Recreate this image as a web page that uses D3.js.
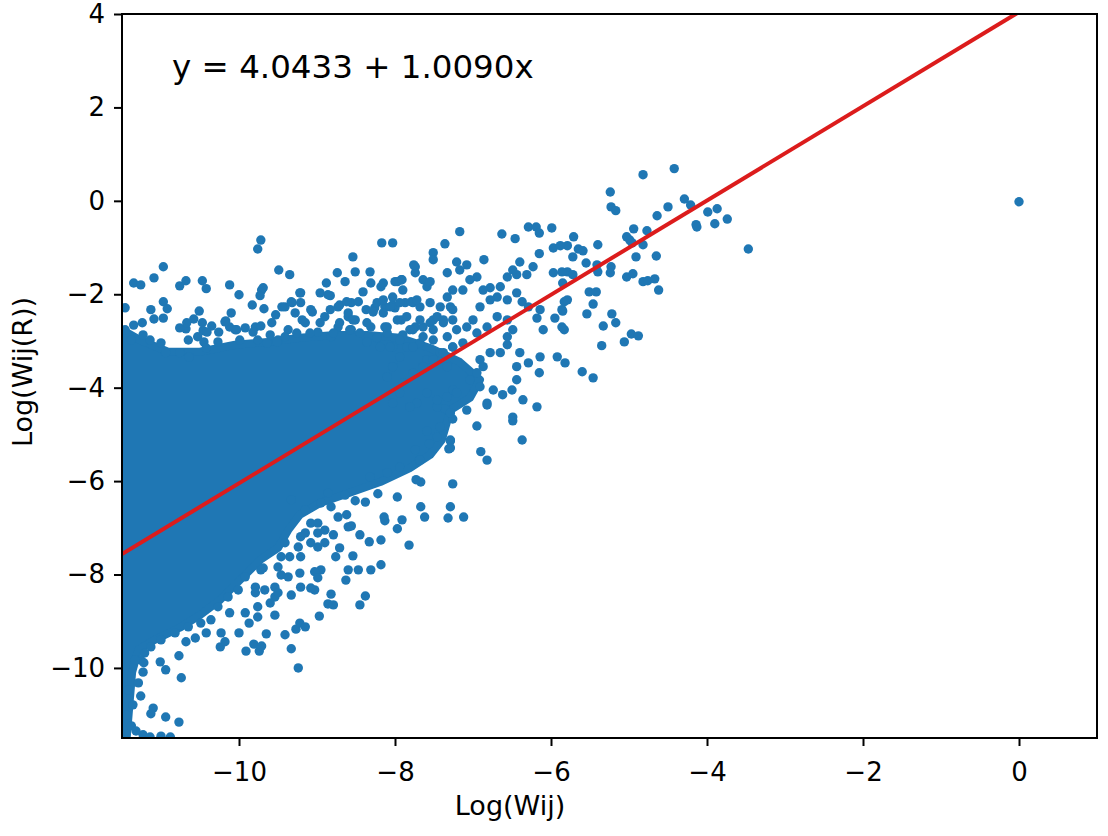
<!DOCTYPE html>
<html>
<head>
<meta charset="utf-8">
<script src="https://cdn.jsdelivr.net/npm/d3@7"></script>
<style>
  html, body { margin: 0; padding: 0; background: #fff; }
  svg { display: block; font-family: "DejaVu Sans", sans-serif; }
</style>
</head>
<body>
<svg id="chart" width="1108" height="836"></svg>
<script>
// axis setup
const xDomain = [-11.5, 1.0]
const yDomain = [-11.5, 4]
const xTicks = [-10, -8, -6, -4, -2, 0]
const yTicks = [-10, -8, -6, -4, -2, 0, 2, 4]
const xLabel = "Log(Wij)"
const yLabel = "Log(Wij(R))"

// fitted line  y = a + b x
const fitIntercept = 4.0433
const fitSlope = 1.0090

// outline of the solid mass of overlapping points on the left
const denseCore = [
  [-11.50,-2.76],[-11.27,-2.98],[-10.91,-3.23],[-10.50,-3.23],[-10.05,-3.08],[-9.63,-3.02],
  [-9.22,-2.93],[-8.77,-2.87],[-8.35,-2.87],[-7.94,-2.93],[-7.55,-3.15],[-7.17,-3.45],
  [-6.91,-3.83],[-7.04,-4.22],[-7.29,-4.48],[-7.40,-5.12],[-7.55,-5.44],[-7.81,-5.72],
  [-8.19,-6.02],[-8.58,-6.25],[-8.96,-6.47],[-9.22,-6.72],[-9.37,-7.05],[-9.50,-7.43],
  [-9.73,-7.69],[-9.99,-8.12],[-10.24,-8.54],[-10.50,-8.87],[-10.76,-9.14],[-11.08,-9.40],
  [-11.29,-9.61],[-11.37,-10.09],[-11.40,-10.69],[-11.44,-11.50],[-11.50,-11.50]
]

// individual points
const upperRightDots = [
  [-4.82,0.56],[-4.42,0.69],[-5.24,0.19],[-5.23,-0.13],[-5.17,-0.21],[-4.29,0.04],[-4.21,-0.09],
  [-4.50,-0.13],[-4.64,-0.32],[-3.99,-0.24],[-3.87,-0.17],[-3.74,-0.39],[-4.14,-0.51],[-4.13,-0.56],
  [-3.90,-0.49],[-3.47,-1.03],[-4.94,-0.60],[-4.77,-0.64],[-5.03,-0.77],[-4.99,-0.84],[-4.96,-0.90],
  [-4.82,-0.94],[-5.71,-0.77],[-5.79,-0.96],[-5.65,-1.03],[-5.59,-1.07],[-5.40,-0.94],[-5.72,-1.20],
  [-5.55,-1.33],[-4.91,-1.20],[-4.65,-1.18],[-5.41,-1.37],[-5.40,-1.52],[-5.23,-1.41],[-5.24,-1.54],
  [-5.79,-1.52],[-5.72,-1.58],[-5.03,-1.63],[-4.95,-1.56],[-4.82,-1.73],[-4.76,-1.71],[-4.67,-1.67],
  [-4.62,-1.91],[-5.51,-1.95],[-5.42,-1.95],[-5.83,-2.16],[-5.46,-2.21],[-5.85,-2.36],[-5.54,-2.42],
  [-5.22,-2.42],[-5.17,-2.61],[-5.33,-2.68],[-5.83,-2.76],[-4.97,-2.85],[-4.88,-2.89],[-5.06,-3.02],
  [-5.35,-3.10],[-5.82,-3.47],[-5.60,-3.66],[-5.46,-3.79],[0.00,-0.02]
]

const lowerRightDots = [
  [-6.18,-4.41],[-6.37,-5.12],[-6.49,-4.71],[-6.82,-5.55],[-6.90,-5.37],[-7.12,-6.77],[-7.32,-6.79],
  [-7.29,-6.55],[-7.62,-6.77],[-7.67,-6.55],[-7.82,-7.37],[-7.26,-6.06],[-7.67,-6.02],[-7.73,-5.97],
  [-7.69,-5.55],[-7.31,-5.31],[-7.29,-5.14],[-6.95,-4.82],[-7.08,-4.48],[-6.82,-4.37],[-7.46,-5.05],
  [-7.59,-4.93],[-7.36,-4.45],[-7.26,-4.67],[-7.56,-5.20],[-7.74,-5.33],[-7.97,-7.02],[-7.91,-6.83],
  [-8.13,-6.85],[-8.14,-6.77],[-7.97,-6.34],[-8.22,-6.27],[-7.26,-4.05],[-7.46,-4.41],[-7.29,-4.54],
  [-7.42,-4.84],[-7.29,-5.12],[-7.29,-5.29],[-7.68,-5.55],[-7.94,-5.70],[-8.10,-5.82],[-8.32,-5.91]
]

const lowerLeftDots = [
  [-11.10,-10.86],[-11.13,-10.98],[-10.94,-11.05],[-10.77,-11.16],[-11.26,-10.60],[-10.74,-10.21],
  [-10.94,-10.04],[-11.01,-9.87],[-10.77,-9.74],[-11.23,-10.09],[-11.00,-11.46],[-10.88,-11.48],
  [-10.68,-9.44],[-10.56,-9.36],[-10.42,-9.25],[-10.23,-9.25],[-10.24,-9.55],[-10.18,-9.44],
  [-10.00,-9.25],[-9.91,-9.64],[-9.81,-9.49],[-9.74,-9.64],[-9.71,-9.53],[-9.65,-9.27],
  [-9.41,-9.29],[-9.33,-9.59],[-9.24,-10.00],[-9.27,-9.17],[-9.22,-9.04],[-9.15,-9.12],
  [-8.97,-8.89],[-8.86,-8.63],[-8.79,-8.65],[-8.82,-8.42],[-8.38,-8.46],[-8.45,-8.65],
  [-8.63,-8.12],[-8.47,-7.90],[-8.31,-7.90],[-8.18,-7.79],[-8.18,-7.26],[-8.33,-7.30],
  [-8.45,-7.15],[-8.54,-7.60],[-8.60,-7.90],[-8.60,-6.98],[-8.56,-6.96],[-8.62,-6.72],
  [-8.51,-6.42],[-8.38,-6.45],[-8.79,-7.15],[-8.71,-7.43],[-8.76,-7.62],[-8.95,-7.90],
  [-9.03,-7.94],[-8.99,-8.07],[-9.03,-8.33],[-9.08,-8.29],[-9.21,-8.27],[-9.22,-7.97],
  [-9.37,-8.05],[-9.46,-8.01],[-9.54,-8.27],[-9.67,-8.33],[-9.54,-8.87],[-9.76,-8.91],
  [-9.92,-8.82],[-9.87,-9.04],[-10.12,-8.82],[-9.69,-7.86],[-9.79,-8.27],[-9.79,-8.39],
  [-9.54,-8.48],[-9.50,-8.39],[-9.60,-8.61],[-9.76,-8.69],[-9.33,-8.44],[-9.21,-7.62],
  [-9.24,-7.41],[-9.21,-7.19],[-9.15,-7.11],[-9.08,-7.32],[-8.99,-7.41],[-8.90,-7.32],
  [-8.99,-7.11],[-9.08,-6.90],[-8.99,-6.90],[-8.90,-7.05],[-8.73,-6.77],[-8.82,-6.55],
  [-8.95,-6.47],[-8.86,-6.25],[-8.64,-6.30],[-9.15,-6.62],[-9.33,-6.40],[-9.41,-7.32],
  [-9.46,-7.62],[-9.35,-7.62],[-9.50,-7.84],[-9.72,-7.90],[-9.92,-8.05],[-10.01,-8.33],
  [-10.14,-8.48],[-10.27,-8.69],[-10.36,-8.97],[-10.49,-9.04],[-10.65,-9.12],[-10.82,-9.25],
  [-11.00,-9.40],[-11.13,-9.55],[-11.21,-9.68],[-11.26,-9.83],[-11.22,-9.89],
  [-11.42,-10.47],[-11.36,-10.79],[-11.44,-11.01],[-11.38,-11.24],[-11.32,-11.35],
  [-11.23,-11.43],[-11.14,-11.48],[-11.29,-10.32],[-11.33,-9.83]
]

const upperLeftDots = [
  [-9.72,-0.84],[-9.76,-1.03],[-10.97,-1.41],[-11.09,-1.65],[-11.35,-1.76],[-11.26,-1.80],
  [-10.76,-1.82],[-10.68,-1.71],[-10.47,-1.71],[-10.42,-1.88],[-10.12,-1.80],[-10.00,-2.01],
  [-9.71,-1.91],[-9.73,-2.03],[-9.83,-2.23],[-9.68,-2.31],[-9.49,-1.48],[-9.35,-1.58],
  [-8.54,-1.20],[-8.51,-1.52],[-8.32,-1.52],[-8.17,-0.90],[-8.03,-0.90],[-8.74,-1.54],
  [-8.88,-1.76],[-8.64,-1.73],[-8.31,-1.76],[-8.18,-1.84],[-8.00,-1.73],[-7.92,-1.69],
  [-7.74,-1.41],[-7.74,-1.54],[-11.46,-2.29],[-11.13,-2.33],[-10.97,-2.16],[-10.92,-2.31],
  [-10.97,-2.51],[-11.24,-2.61],[-10.51,-2.36],[-10.58,-2.53],[-10.68,-2.74],[-10.46,-2.78],
  [-10.35,-2.68],[-10.17,-2.57],[-10.10,-2.40],[-10.26,-2.81],[-10.27,-3.02],[-10.53,-2.91],
  [-10.45,-3.02],[-10.42,-3.15],[-10.65,-2.98],[-10.76,-3.25],[-10.64,-3.34],[-10.94,-3.25],
  [-11.00,-3.04],[-11.14,-2.98],[-11.23,-2.87],[-11.38,-2.98],[-11.46,-2.76],[-9.99,-2.98],
  [-10.05,-2.76],[-9.92,-2.72],[-9.79,-2.70],[-9.72,-2.68],[-9.60,-2.87],[-9.53,-2.44],
  [-9.41,-2.27],[-9.33,-2.16],[-9.21,-1.97],[-9.21,-2.18],[-9.28,-2.40],[-8.96,-1.97],
  [-8.83,-2.03],[-9.08,-2.33],[-8.90,-2.48],[-8.73,-2.27],[-8.56,-2.18],[-8.47,-2.16],
  [-8.37,-2.33],[-8.26,-2.29],[-8.13,-2.27],[-8.00,-2.29],[-7.87,-2.18],[-7.79,-2.16],
  [-8.41,-1.95],[-8.51,-2.55],[-8.60,-2.48],[-8.73,-2.70],[-9.15,-2.61],[-9.37,-2.76],
  [-9.50,-2.98],[-9.76,-2.98],[-8.99,-2.81],[-8.82,-2.91],[-8.56,-2.76],[-8.31,-2.70],
  [-8.13,-2.70],[-7.92,-2.55],[-7.74,-2.70],[-11.35,-2.66],[-11.09,-2.53],[-10.76,-2.72],
  [-10.67,-2.61],[-10.47,-2.61],[-10.41,-2.81],[-10.12,-2.70]
]

const bandDots = [
  [-9.69,-1.86],[-10.18,-2.59],[-10.03,-2.76],[-9.82,-2.81],[-9.58,-2.61],[-9.45,-2.27],
  [-9.32,-2.18],[-9.22,-1.97],[-9.19,-2.55],[-9.06,-2.38],[-8.86,-2.01],[-8.83,-2.33],
  [-8.96,-2.61],[-9.09,-2.83],[-9.26,-2.83],[-9.41,-2.91],[-9.51,-3.02],[-9.64,-3.04],
  [-8.71,-2.23],[-8.62,-2.16],[-8.60,-2.40],[-8.54,-2.55],[-8.71,-2.61],[-8.79,-2.83],
  [-8.58,-2.76],[-8.45,-2.83],[-8.36,-2.61],[-8.28,-2.38],[-8.23,-2.18],[-8.03,-2.23],
  [-7.77,-2.18],[-7.68,-2.27],[-7.55,-2.18],[-7.29,-2.27],[-7.26,-2.55],[-7.38,-2.61],
  [-7.51,-2.55],[-7.64,-2.70],[-7.77,-2.76],[-7.90,-2.87],[-8.10,-2.83],[-8.23,-2.93],
  [-8.36,-3.02],[-8.19,-3.13],[-8.03,-3.13],[-7.85,-3.13],[-7.68,-3.04],[-7.51,-2.98],
  [-7.33,-2.91],[-7.21,-2.76],[-7.26,-3.13],[-7.42,-3.25],[-7.59,-3.40],[-7.33,-3.55]
]

const middleDots = [
  [-7.17,-0.66],[-6.63,-0.71],[-6.46,-0.81],[-6.29,-0.56],[-6.19,-0.56],[-6.15,-0.69],[-5.99,-0.58],
  [-5.97,-1.01],[-5.88,-0.96],[-7.36,-0.92],[-7.51,-1.11],[-7.51,-1.26],[-7.76,-1.37],[-7.64,-1.69],
  [-7.59,-1.84],[-7.55,-1.73],[-7.33,-1.54],[-7.21,-1.31],[-7.08,-1.37],[-7.17,-1.48],[-6.86,-1.26],
  [-6.95,-1.63],[-7.04,-1.69],[-7.13,-1.91],[-7.26,-1.91],[-7.33,-2.06],[-7.42,-2.27],[-7.46,-2.48],
  [-7.55,-2.61],[-7.64,-2.91],[-7.77,-3.13],[-7.94,-3.34],[-8.03,-3.55],[-8.10,-3.77],[-8.15,-1.76],
  [-7.97,-1.73],[-7.91,-1.69],[-6.40,-1.31],[-6.23,-1.41],[-6.15,-1.13],[-5.97,-1.54],[-5.86,-1.52],
  [-5.85,-1.76],[-6.31,-1.58],[-6.44,-1.58],[-6.49,-1.48],[-6.56,-1.63],[-6.65,-1.84],[-6.78,-1.86],
  [-6.87,-1.91],[-6.69,-2.06],[-6.56,-2.12],[-6.44,-1.97],[-6.37,-2.16],[-6.29,-2.27],[-6.14,-2.33],
  [-6.18,-2.51],[-6.10,-2.76],[-5.95,-2.51],[-5.86,-2.33],[-5.79,-2.12],[-5.86,-2.70],[-5.92,-3.34],
  [-6.14,-3.34],[-6.29,-3.47],[-6.15,-3.68],[-6.44,-3.55],[-6.40,-3.25],[-6.44,-3.83],[-6.50,-4.05],
  [-6.56,-3.08],[-6.65,-3.25],[-6.78,-3.25],[-6.91,-3.40],[-6.87,-3.55],[-6.95,-3.68],[-7.04,-3.83],
  [-6.91,-3.98],[-6.74,-4.05],[-6.62,-4.15],[-6.82,-4.33],[-7.21,-4.11],[-7.33,-4.20],[-7.46,-4.26],
  [-7.59,-4.11],[-7.72,-4.33],[-7.81,-4.41],[-7.94,-4.11],[-8.03,-4.33],[-6.36,-4.26],[-6.49,-4.63],
  [-6.78,-2.12],[-6.91,-2.27],[-7.00,-2.55],[-7.08,-2.70],[-6.95,-2.83],[-6.82,-2.70],[-6.69,-2.48],
  [-6.56,-2.55],[-6.49,-2.76],[-6.56,-2.91],[-7.13,-3.04],[-7.26,-3.13],[-7.38,-3.25],[-7.51,-3.40],
  [-7.64,-3.55],[-7.77,-3.68],[-7.90,-3.90],[-7.26,-2.33],[-7.38,-2.55],[-7.51,-2.76],[-7.68,-2.55],
  [-7.81,-2.76],[-7.94,-2.98],[-8.06,-3.13],[-7.85,-2.48],[-7.97,-2.55],[-8.10,-2.70],[-7.72,-2.12],
  [-7.94,-2.18],[-8.06,-2.27],[-8.15,-2.40],[-7.90,-1.91],[-8.03,-2.06],[-8.15,-2.12]
]

const allDots = [].concat(upperRightDots, lowerRightDots, lowerLeftDots, upperLeftDots, bandDots, middleDots)

const plot = {left: 122, right: 1097, top: 14, bottom: 738}
const blue = "#1f77b4"

const svg = d3.select("#chart")

const x = d3.scaleLinear().domain(xDomain).range([plot.left, plot.right])
const y = d3.scaleLinear().domain(yDomain).range([plot.bottom, plot.top])

svg.append("defs").append("clipPath").attr("id", "plotclip")
  .append("rect")
  .attr("x", plot.left).attr("y", plot.top)
  .attr("width", plot.right - plot.left).attr("height", plot.bottom - plot.top)

const g = svg.append("g").attr("clip-path", "url(#plotclip)")

// solid mass, with a round stroke so its edge is as soft as the dots
g.append("path")
  .datum(denseCore)
  .attr("d", d3.line().x(d => x(d[0])).y(d => y(d[1])).curve(d3.curveLinearClosed))
  .attr("fill", blue)
  .attr("stroke", blue)
  .attr("stroke-width", 8)
  .attr("stroke-linejoin", "round")

// points
g.selectAll("circle.dot")
  .data(allDots).enter().append("circle")
  .attr("class", "dot")
  .attr("cx", d => x(d[0]))
  .attr("cy", d => y(d[1]))
  .attr("r", 4.7)
  .attr("fill", blue)

// regression line
const fitLine = xDomain.map(v => [v, fitIntercept + fitSlope * v])
g.append("path")
  .datum(fitLine)
  .attr("d", d3.line().x(d => x(d[0])).y(d => y(d[1])))
  .attr("stroke", "#dc1c1c")
  .attr("stroke-width", 4)
  .attr("fill", "none")

// frame
svg.append("rect")
  .attr("x", plot.left).attr("y", plot.top)
  .attr("width", plot.right - plot.left).attr("height", plot.bottom - plot.top)
  .attr("fill", "none").attr("stroke", "#000").attr("stroke-width", 2)

const fmt = d => d < 0 ? "\u2212" + Math.abs(d) : String(d)

const xAxis = svg.append("g")
  .attr("transform", `translate(0,${plot.bottom})`)
  .call(d3.axisBottom(x).tickValues(xTicks).tickFormat(fmt).tickSize(8).tickPadding(17))
const yAxis = svg.append("g")
  .attr("transform", `translate(${plot.left},0)`)
  .call(d3.axisLeft(y).tickValues(yTicks).tickFormat(fmt).tickSize(8).tickPadding(9))

;[xAxis, yAxis].forEach(ax => {
  ax.select(".domain").remove()
  ax.selectAll(".tick line").attr("stroke", "#000").attr("stroke-width", 2)
  ax.selectAll(".tick text")
    .attr("fill", "#000")
    .style("font-family", "'DejaVu Sans', sans-serif")
    .style("font-size", "26px")
})

// axis labels
svg.append("text")
  .attr("x", 510).attr("y", 815)
  .attr("text-anchor", "middle")
  .style("font-size", "27px")
  .text(xLabel)

svg.append("text")
  .attr("transform", "translate(32,372) rotate(-90)")
  .attr("text-anchor", "middle")
  .style("font-size", "27px")
  .text(yLabel)

// equation
svg.append("text")
  .attr("x", 172).attr("y", 78)
  .style("font-size", "32.5px")
  .text(`y = ${fitIntercept.toFixed(4)} + ${fitSlope.toFixed(4)}x`)
</script>
</body>
</html>
